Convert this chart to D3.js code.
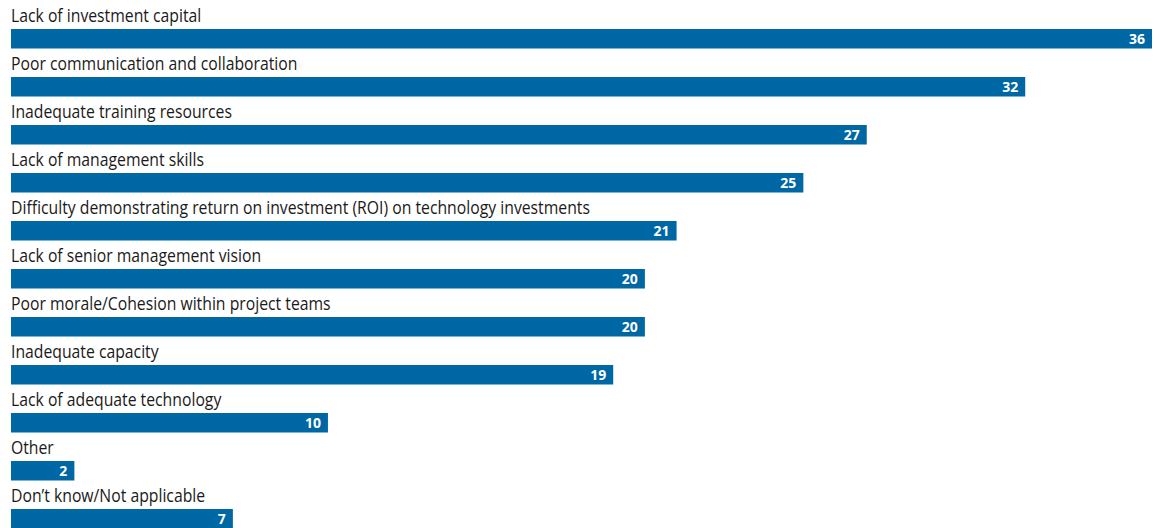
<!DOCTYPE html>
<html>
<head>
<meta charset="utf-8">
<script src="https://cdn.jsdelivr.net/npm/d3@7"></script>
<style>
  html, body { margin: 0; padding: 0; background: #fff; }
  svg { display: block; }
</style>
</head>
<body>
<svg id="chart" width="1164" height="528"></svg>
<script>
// Obstacles and share of respondents (%)
const categories = [
  "Lack of investment capital",
  "Poor communication and collaboration",
  "Inadequate training resources",
  "Lack of management skills",
  "Difficulty demonstrating return on investment (ROI) on technology investments",
  "Lack of senior management vision",
  "Poor morale/Cohesion within project teams",
  "Inadequate capacity",
  "Lack of adequate technology",
  "Other",
  "Don\u2019t know/Not applicable"
];
const values = [36, 32, 27, 25, 21, 20, 20, 19, 10, 2, 7];

const svg = d3.select("#chart");
const barColor = "#0067a5";

const x = d3.scaleLinear().domain([0, 36]).range([11, 1152]);
const y = d3.scaleBand().domain(categories).range([0, 528]).paddingInner(0).paddingOuter(0);

const rows = svg.selectAll("g.row")
  .data(categories.map((c, i) => ({ c, v: values[i] })))
  .join("g")
  .attr("class", "row")
  .attr("transform", d => `translate(0,${y(d.c)})`);

// Category labels sit above their bars, in a slightly condensed face
rows.append("text")
  .attr("class", "cat")
  .attr("x", 11)
  .attr("y", 22)
  .attr("fill", "#1a1a1a")
  .attr("transform", "translate(11,0) scale(0.876,1) translate(-11,0)")
  .style("font-family", "'Open Sans', sans-serif")
  .style("font-size", "18px")
  .text(d => d.c);

rows.append("rect")
  .attr("x", x(0))
  .attr("y", 29)
  .attr("width", d => x(d.v) - x(0))
  .attr("height", 19.5)
  .attr("fill", barColor);

// Value labels inside the bar end
rows.append("text")
  .attr("x", d => x(d.v) - 7)
  .attr("y", 44)
  .attr("text-anchor", "end")
  .attr("fill", "#fff")
  .style("font-family", "'Open Sans', sans-serif")
  .style("font-weight", "700")
  .style("font-size", "14px")
  .text(d => d.v);
</script>
</body>
</html>
